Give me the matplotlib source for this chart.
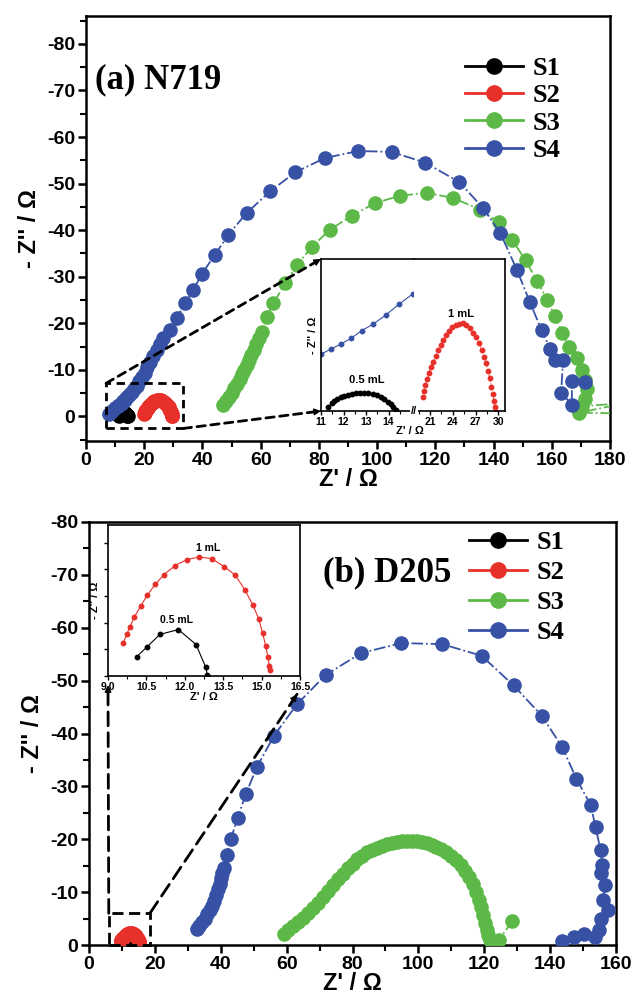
import numpy as np
import matplotlib
matplotlib.use('Agg')
import matplotlib.pyplot as plt
from matplotlib.ticker import MultipleLocator, FormatStrFormatter
from matplotlib.patches import Rectangle, FancyArrowPatch
from matplotlib.lines import Line2D

plt.rcParams['font.family'] = 'Liberation Sans'
plt.rcParams['font.weight'] = 'bold'
plt.rcParams['axes.linewidth'] = 1.8
plt.rcParams['axes.unicode_minus'] = False

BLACK = '#000000'
RED = '#e8302a'
GREEN = '#5cb947'
BLUE = '#3752a5'
names = ['S1', 'S2', 'S3', 'S4']

# ---- (a) N719 ----
s1a_x = [11.33, 11.47, 11.59, 11.73, 11.87, 12.02, 12.19, 12.36, 12.56, 12.73, 12.91,
         13.10, 13.30, 13.48, 13.65, 13.81, 13.96, 14.10, 14.21, 14.32]
s1a_y = [-0.17, -0.31, -0.41, -0.48, -0.55, -0.60, -0.64, -0.68, -0.71, -0.72, -0.72,
         -0.71, -0.68, -0.63, -0.56, -0.48, -0.37, -0.27, -0.15, -0.04]

s2a_x = [20.04, 20.21, 20.38, 20.60, 20.87, 21.13, 21.44, 21.75, 22.05, 22.41, 22.75,
         23.11, 23.50, 23.90, 24.38, 24.86, 25.35, 25.78, 26.23, 26.67, 27.06, 27.46,
         27.81, 28.11, 28.38, 28.64, 28.87, 29.08, 29.26, 29.43, 29.56, 29.70]
s2a_y = [-0.57, -0.81, -1.04, -1.27, -1.51, -1.75, -1.97, -2.20, -2.44, -2.65, -2.84,
         -3.03, -3.20, -3.35, -3.44, -3.49, -3.51, -3.45, -3.32, -3.13, -2.95, -2.71,
         -2.44, -2.17, -1.91, -1.61, -1.31, -0.97, -0.68, -0.41, -0.17, 0.03]

s3a_x = [47.2, 48.0, 49.0, 50.0, 51.0, 52.0, 52.8, 53.6, 54.4, 55.2, 56.0, 56.8, 57.6,
         58.4, 59.3, 60.4, 62.1, 64.4, 68.4, 72.4, 77.6, 83.8, 91.3, 99.3, 107.9, 117.1,
         126.2, 135.4, 141.7, 146.5, 151.0, 155.0, 158.5, 161.0, 163.5, 166.0, 168.5,
         170.5, 171.5, 172.0, 171.5, 170.5, 185.0, 169.5, 185.0]
s3a_y = [-2.4, -3.2, -4.1, -5.0, -6.0, -7.0, -8.0, -9.0, -10.0, -11.0, -12.1, -13.2, -14.3,
         -15.5, -16.8, -18.2, -21.4, -24.3, -28.6, -32.5, -36.4, -40.1, -43.1, -45.8, -47.4,
         -48.0, -46.9, -44.4, -41.7, -37.8, -33.5, -29.0, -25.0, -21.5, -18.0, -15.0, -12.5,
         -10.0, -7.8, -5.8, -3.8, -2.2, -2.8, -0.8, -0.6]

s4a_x = [8.0, 9.0, 10.0, 11.0, 11.44, 11.89, 12.34, 12.8, 13.32, 13.87, 14.46, 15.1, 15.8,
         16.6, 17.4, 18.3, 19.2, 20.1, 21.1, 22.0, 23.1, 24.3, 25.5, 26.6, 28.9, 31.2,
         34.0, 36.9, 39.8, 44.3, 48.9, 55.2, 63.2, 71.8, 82.1, 93.6, 105.0, 116.5, 128.3,
         136.3, 142.3, 148.0, 152.5, 156.5, 159.5, 161.2, 163.9, 163.2, 166.9, 166.9, 171.5]
s4a_y = [-0.6, -1.1, -1.7, -2.27, -2.48, -2.68, -2.91, -3.21, -3.48, -3.83, -4.27, -4.7, -5.2,
         -5.8, -6.6, -7.5, -8.4, -9.4, -10.5, -11.6, -12.9, -14.3, -15.6, -16.8, -18.5, -21.1,
         -24.3, -27.2, -30.6, -34.7, -39.0, -43.7, -48.3, -52.4, -55.5, -57.0, -56.8, -54.5,
         -50.3, -44.8, -39.4, -31.5, -24.5, -18.5, -14.5, -12.1, -12.1, -5.1, -2.5, -7.5, -7.3]

# ---- (b) D205 ----
s1b_x = [10.12, 10.51, 11.03, 11.75, 12.44, 12.82, 12.88]
s1b_y = [-0.36, -0.54, -0.78, -0.87, -0.59, -0.16, -0.02]

s2b_x = [9.60, 9.73, 9.86, 10.03, 10.28, 10.54, 10.85, 11.19, 11.62, 12.07, 12.57, 13.05,
         13.54, 13.97, 14.34, 14.65, 14.89, 15.04, 15.16, 15.24, 15.30, 15.32]
s2b_y = [-0.62, -0.78, -0.92, -1.11, -1.31, -1.52, -1.72, -1.90, -2.07, -2.18, -2.23, -2.20,
         -2.05, -1.89, -1.62, -1.34, -1.07, -0.80, -0.57, -0.36, -0.19, -0.11]

s3b_x = [59.2, 60.5, 62.0, 63.5, 65.0, 66.5, 68.0, 69.5, 71.0, 72.5, 74.0, 75.5, 77.0, 78.5,
         80.0, 81.5, 83.0, 84.5, 86.0, 87.5, 89.0, 90.5, 92.0, 93.5, 95.0, 96.5, 98.0, 99.5,
         101.0, 102.5, 104.0, 105.5, 107.0, 108.5, 110.0, 111.5, 113.0, 114.3, 115.5, 116.6,
         117.6, 118.4, 119.1, 119.7, 120.2, 120.7, 121.2, 121.8, 122.5, 123.3, 124.5, 128.5]
s3b_y = [-2.1, -2.8, -3.5, -4.3, -5.1, -6.0, -7.0, -8.0, -9.1, -10.2, -11.3, -12.4, -13.5,
         -14.5, -15.4, -16.2, -16.9, -17.5, -18.0, -18.4, -18.8, -19.1, -19.3, -19.5, -19.6,
         -19.7, -19.7, -19.6, -19.5, -19.3, -19.0, -18.6, -18.1, -17.5, -16.8, -16.0, -15.1,
         -14.0, -12.8, -11.5, -10.1, -8.6, -7.1, -5.6, -4.2, -2.9, -1.8, -0.9, -0.4, -0.2,
         -1.0, -4.5]

s4b_x = [32.8, 33.5, 34.3, 35.1, 35.9, 36.6, 37.3, 38.0, 38.6, 39.2, 39.7, 40.1, 40.5, 41.0,
         41.9, 43.1, 45.1, 47.6, 51.0, 56.2, 63.1, 71.9, 82.6, 94.8, 107.2, 119.2, 128.9,
         137.4, 143.7, 148.0, 152.3, 153.8, 155.3, 155.8, 155.4, 156.6, 156.2, 157.5, 155.4,
         154.7, 153.5, 150.4, 147.3, 143.6]
s4b_y = [-3.0, -3.6, -4.3, -5.0, -5.8, -6.6, -7.4, -8.4, -9.4, -10.5, -11.6, -12.7, -13.7,
         -14.5, -17.0, -20.1, -24.0, -28.5, -33.7, -39.6, -45.5, -51.1, -55.2, -57.1, -56.9,
         -54.7, -49.1, -43.4, -37.4, -31.4, -26.5, -22.3, -18.0, -15.2, -13.7, -11.4, -8.5,
         -6.6, -5.0, -2.8, -1.5, -2.1, -1.5, -0.8]

colors = [BLACK, RED, GREEN, BLUE]
data_a = [(s1a_x, s1a_y), (s2a_x, s2a_y), (s3a_x, s3a_y), (s4a_x, s4a_y)]
data_b = [(s1b_x, s1b_y), (s2b_x, s2b_y), (s3b_x, s3b_y), (s4b_x, s4b_y)]

W, H = 636, 997
fig = plt.figure(figsize=(W / 100, H / 100), dpi=100)


def px_axes(l, t, r, b):
    return fig.add_axes([l / W, 1 - b / H, (r - l) / W, (b - t) / H])


ax_a = px_axes(86, 16, 610, 441)
ax_b = px_axes(89, 522, 616, 945)


def style_main(ax, xmax, ylim):
    ax.set_xlim(0, xmax)
    ax.set_ylim(*ylim)
    ax.xaxis.set_major_locator(MultipleLocator(20))
    ax.xaxis.set_minor_locator(MultipleLocator(10))
    ax.yaxis.set_major_locator(MultipleLocator(10))
    ax.yaxis.set_minor_locator(MultipleLocator(5))
    ax.tick_params(which='major', direction='out', length=6, width=1.8, labelsize=14, pad=2)
    ax.tick_params(which='minor', direction='out', length=4, width=1.5)
    ax.set_xlabel("Z' / \u03a9", fontsize=17, fontweight='bold', labelpad=-1)
    ax.set_ylabel("- Z'' / \u03a9", fontsize=17, fontweight='bold', labelpad=4)


def plot_main(ax, data):
    for (x, y), c in zip(data, colors):
        ax.plot(x, y, color=c, marker='o', ms=9.5, lw=1.3, ls='-.', zorder=3)


def legend(ax, anchor, spacing):
    handles = [Line2D([], [], color=c, marker='o', ms=11, lw=2) for c in colors]
    ax.legend(handles, names, loc='upper left', bbox_to_anchor=anchor, frameon=False,
              prop=dict(family='Liberation Serif', weight='bold', size=19),
              handlelength=2.2, handletextpad=0.35, labelspacing=spacing,
              borderaxespad=0, borderpad=0)


plot_main(ax_a, data_a)
style_main(ax_a, 180, (5.3, -86))
legend(ax_a, (0.723, 0.905), 0.15)
ax_a.text(0.017, 0.85, '(a) N719', transform=ax_a.transAxes, fontsize=25,
          fontweight='bold', family='Liberation Serif', va='center')
ax_a.add_patch(Rectangle((6.9, 2.6), 26.5, -9.7, fill=False, ls=(0, (3, 2)), lw=2,
                         ec='k', zorder=4))

plot_main(ax_b, data_b)
style_main(ax_b, 160, (0, -80))
legend(ax_b, (0.721, 0.98), 0.25)
ax_b.text(0.444, 0.879, '(b) D205', transform=ax_b.transAxes, fontsize=25,
          fontweight='bold', family='Liberation Serif', va='center')
ax_b.add_patch(Rectangle((6.0, 0.0), 12.5, -6.0, fill=False, ls=(0, (4, 2)), lw=2,
                         ec='k', zorder=4, clip_on=False))


def style_inset(ax):
    for s in ax.spines.values():
        s.set_linewidth(1.2)
    ax.tick_params(which='major', direction='out', length=3, width=1, labelsize=7.5, pad=1)
    ax.tick_params(which='minor', direction='out', length=1.8, width=0.8)


# inset (a), broken x axis
ia1 = px_axes(321, 259, 414, 411)
ia2 = px_axes(414, 259, 505, 411)
for ia in (ia1, ia2):
    style_inset(ia)
    ia.set_ylim(0.0, -6.08)
    ia.set_yticks([])
ia1.spines['right'].set_visible(False)
ia2.spines['left'].set_visible(False)
ia1.set_xlim(11, 15.13)
ia1.set_xticks([11, 12, 13, 14])
ia1.xaxis.set_minor_locator(MultipleLocator(0.5))
ia2.set_xlim(18.89, 30.88)
ia2.set_xticks([21, 24, 27, 30])
ia2.xaxis.set_minor_locator(MultipleLocator(1.5))
ia1.plot(s1a_x, s1a_y, color=BLACK, marker='o', ms=3.2, lw=0.8)
ia1.plot(s4a_x, s4a_y, color=BLUE, marker='o', ms=3.2, lw=0.8)
ia2.plot(s2a_x, s2a_y, color=RED, marker='o', ms=3.2, lw=0.8, ls=':')
ia1.set_ylabel("- Z'' / \u03a9", fontsize=8, fontweight='bold', labelpad=2)
ia1.text(13.03, -1.24, '0.5 mL', fontsize=8, fontweight='bold', ha='center', va='center')
ia2.text(25.04, -3.9, '1 mL', fontsize=8, fontweight='bold', ha='center', va='center')
fig.text(410 / W, 1 - 431 / H, "Z' / \u03a9", fontsize=8, fontweight='bold',
         ha='center', va='center')
fig.text(414 / W, 1 - 411 / H, '//', fontsize=8, fontweight='bold', ha='center',
         va='center', zorder=10,
         bbox=dict(fc='white', ec='none', pad=0.5))

# inset (b)
ib = px_axes(108, 525, 300, 676)
style_inset(ib)
ib.set_xlim(9.0, 16.5)
ib.set_ylim(0, -2.83)
ib.xaxis.set_major_locator(MultipleLocator(1.5))
ib.xaxis.set_minor_locator(MultipleLocator(0.75))
ib.xaxis.set_major_formatter(FormatStrFormatter('%.1f'))
ib.yaxis.set_major_locator(MultipleLocator(0.5))
ib.tick_params(axis='y', labelleft=False)
ib.plot(s1b_x, s1b_y, color=BLACK, marker='o', ms=3.2, lw=0.8)
ib.plot(s2b_x, s2b_y, color=RED, marker='o', ms=3.2, lw=0.8)
ib.set_xlabel("Z' / \u03a9", fontsize=8, fontweight='bold', labelpad=0)
ib.set_ylabel("- Z'' / \u03a9", fontsize=8, fontweight='bold', labelpad=3)
ib.text(12.9, -2.40, '1 mL', fontsize=7.5, fontweight='bold', ha='center', va='center')
ib.text(11.66, -1.05, '0.5 mL', fontsize=7.5, fontweight='bold', ha='center', va='center')


def to_fig(trans, xy):
    return fig.transFigure.inverted().transform(trans.transform(xy))


def zoom_line(p0, p1, dash):
    p0 = np.asarray(p0)
    p1 = np.asarray(p1)
    fig.add_artist(FancyArrowPatch(p0, p1, transform=fig.transFigure, arrowstyle='-',
                                   ls=dash, lw=2, color='k', zorder=6,
                                   shrinkA=0, shrinkB=0))
    p_back = p1 - (p1 - p0) * 0.04
    fig.add_artist(FancyArrowPatch(p_back, p1, transform=fig.transFigure,
                                   arrowstyle='-|>', mutation_scale=10, lw=1,
                                   color='k', zorder=6, shrinkA=0, shrinkB=0))


zoom_line(to_fig(ax_a.transData, (6.9, -7.1)), to_fig(ia1.transAxes, (0, 1)), (0, (3, 2)))
zoom_line(to_fig(ax_a.transData, (33.4, 2.6)), to_fig(ia1.transAxes, (0, 0)), (0, (3, 2)))
zoom_line(to_fig(ax_b.transData, (6.0, -6.0)), to_fig(ib.transAxes, (0, -0.06)), (0, (5, 2.5)))
zoom_line(to_fig(ax_b.transData, (18.5, -6.0)), to_fig(ib.transAxes, (0.985, -0.12)), (0, (5, 2.5)))

plt.savefig('out.png', dpi=100)
